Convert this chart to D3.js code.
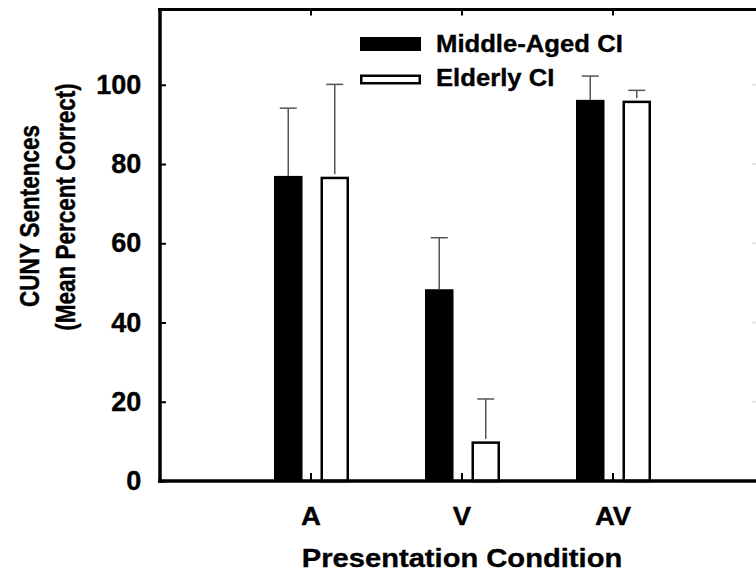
<!DOCTYPE html>
<html>
<head>
<meta charset="utf-8">
<script src="https://cdn.jsdelivr.net/npm/d3@7"></script>
<style>
  html, body { margin: 0; padding: 0; background: #fff; }
  svg { display: block; }
  text { font-family: "Liberation Sans", Arial, sans-serif; font-weight: bold; fill: #000; stroke: #000; stroke-width: 0.35px; }
</style>
</head>
<body>
<svg id="chart" width="756" height="583"></svg>
<script>
// ---- data ----
const categories = ["A", "V", "AV"];
const seriesNames = ["Middle-Aged CI", "Elderly CI"];
const middleAgedMean = [77.0, 48.4, 96.2];
const middleAgedErr = [17.1, 13.0, 6.0];
const elderlyMean = [76.8, 10.0, 96.0];
const elderlyErr = [23.3, 10.7, 2.6];
const yTickValues = [0, 20, 40, 60, 80, 100];
const xTitle = "Presentation Condition";
const yTitleLines = ["CUNY Sentences", "(Mean Percent Correct)"];

// ---- layout ----
const W = 756, H = 583;
const plotLeft = 160, plotRight = 764, plotTop = 9.5, plotBottom = 481;
const svg = d3.select("#chart");

const x = d3.scalePoint().domain(categories).range([plotLeft, plotRight]).padding(1);
const sub = d3.scaleBand().domain(seriesNames).range([-37, 38]).paddingInner(0.387).paddingOuter(0);
const y = d3.scaleLinear().domain([0, 119]).range([plotBottom, plotTop]);

const rows = categories.map((c, i) => ({
  cat: c,
  vals: [
    { s: seriesNames[0], v: middleAgedMean[i], e: middleAgedErr[i] },
    { s: seriesNames[1], v: elderlyMean[i], e: elderlyErr[i] }
  ]
}));

// faint right-side ticks (edge of a cropped right axis)
svg.append("g").selectAll("line").data(yTickValues.slice(1)).join("line")
  .attr("x1", 752).attr("x2", 756)
  .attr("y1", d => y(d)).attr("y2", d => y(d))
  .attr("stroke", "#e4e4e4").attr("stroke-width", 2);

// bars
const groups = svg.append("g").selectAll("g").data(rows).join("g")
  .attr("transform", d => `translate(${x(d.cat)},0)`);

const sw = 2.5;
groups.selectAll("rect").data(d => d.vals).join("rect")
  .attr("x", d => d.s === seriesNames[0] ? sub(d.s) : sub(d.s) + sw / 2)
  .attr("width", d => d.s === seriesNames[0] ? sub.bandwidth() : sub.bandwidth() - sw)
  .attr("y", d => d.s === seriesNames[0] ? y(d.v) : y(d.v) + sw / 2)
  .attr("height", d => d.s === seriesNames[0] ? y(0) - y(d.v) : y(0) - y(d.v) - sw / 2)
  .attr("fill", d => d.s === seriesNames[0] ? "#000" : "#fff")
  .attr("stroke", d => d.s === seriesNames[0] ? "none" : "#000")
  .attr("stroke-width", sw);

// error bars (upper only)
const eb = groups.selectAll("g.err").data(d => d.vals).join("g").attr("class", "err");
eb.append("line")
  .attr("x1", d => sub(d.s) + sub.bandwidth() / 2)
  .attr("x2", d => sub(d.s) + sub.bandwidth() / 2)
  .attr("y1", d => y(d.v) - (d.s === seriesNames[0] ? 0 : sw))
  .attr("y2", d => y(d.v + d.e))
  .attr("stroke", "#555").attr("stroke-width", 1.5);
eb.append("line")
  .attr("x1", d => sub(d.s) + sub.bandwidth() / 2 - 8.5)
  .attr("x2", d => sub(d.s) + sub.bandwidth() / 2 + 8.5)
  .attr("y1", d => y(d.v + d.e)).attr("y2", d => y(d.v + d.e))
  .attr("stroke", "#555").attr("stroke-width", 1.5);

// axes frame
svg.append("line").attr("x1", plotLeft - 2).attr("x2", W)
  .attr("y1", plotTop).attr("y2", plotTop).attr("stroke", "#000").attr("stroke-width", 3);
svg.append("line").attr("x1", plotLeft - 2).attr("x2", W)
  .attr("y1", plotBottom).attr("y2", plotBottom).attr("stroke", "#000").attr("stroke-width", 3.5);

// left axis
const yAxis = svg.append("g").attr("transform", `translate(${plotLeft},0)`)
  .call(d3.axisLeft(y).tickValues(yTickValues).tickSize(-6).tickPadding(18));
yAxis.select(".domain").remove();
svg.append("line").attr("x1", plotLeft).attr("x2", plotLeft)
  .attr("y1", plotTop - 1.5).attr("y2", plotBottom + 1.75).attr("stroke", "#000").attr("stroke-width", 3.5);
yAxis.selectAll(".tick line").attr("stroke", "#000").attr("stroke-width", 2);
yAxis.selectAll(".tick text").attr("font-size", 26).attr("font-family", "Liberation Sans, Arial, sans-serif")
  .attr("font-weight", "bold").attr("fill", "#000")
  .attr("transform", "scale(1.04,1.04)");

// top ticks (down) and bottom ticks (up)
svg.append("g").selectAll("line").data(categories).join("line")
  .attr("x1", d => x(d)).attr("x2", d => x(d))
  .attr("y1", plotTop).attr("y2", plotTop + 6)
  .attr("stroke", "#000").attr("stroke-width", 2);
svg.append("g").selectAll("line").data(categories).join("line")
  .attr("x1", d => x(d)).attr("x2", d => x(d))
  .attr("y1", plotBottom).attr("y2", plotBottom - 8)
  .attr("stroke", "#000").attr("stroke-width", 2);

// x tick labels
svg.append("g").selectAll("text").data(categories).join("text")
  .attr("transform", d => `translate(${x(d)},525) scale(1.08,1)`)
  .attr("text-anchor", "middle").attr("font-size", 25.5)
  .text(d => d);

// x title
svg.append("text")
  .attr("transform", "translate(462,567) scale(1.1,1)")
  .attr("text-anchor", "middle").attr("font-size", 26.5)
  .text(xTitle);

// y title (rotated; glyph height stretched horizontally)
const yTitlePos = [{ x: 39, y: 216 }, { x: 75, y: 207 }];
svg.append("g").selectAll("text").data(yTitleLines).join("text")
  .attr("transform", (d, i) => `translate(${yTitlePos[i].x},${yTitlePos[i].y}) scale(1.22,1) rotate(-90)`)
  .attr("text-anchor", "middle").attr("font-size", 22.5)
  .text(d => d);

// legend
const legend = svg.append("g");
const legY = [37, 74.5];
legend.selectAll("rect").data(seriesNames).join("rect")
  .attr("x", (d, i) => i === 0 ? 360 : 360 + sw / 2)
  .attr("y", (d, i) => i === 0 ? legY[i] : legY[i] + sw / 2)
  .attr("width", (d, i) => i === 0 ? 61 : 61 - sw)
  .attr("height", (d, i) => i === 0 ? 14 : 10 - sw)
  .attr("fill", (d, i) => i === 0 ? "#000" : "#fff")
  .attr("stroke", (d, i) => i === 0 ? "none" : "#000")
  .attr("stroke-width", sw);
legend.selectAll("text").data(seriesNames).join("text")
  .attr("transform", (d, i) => `translate(436,${i === 0 ? 52 : 86}) scale(1.07,1)`)
  .attr("font-size", 24)
  .text(d => d);
</script>
</body>
</html>
